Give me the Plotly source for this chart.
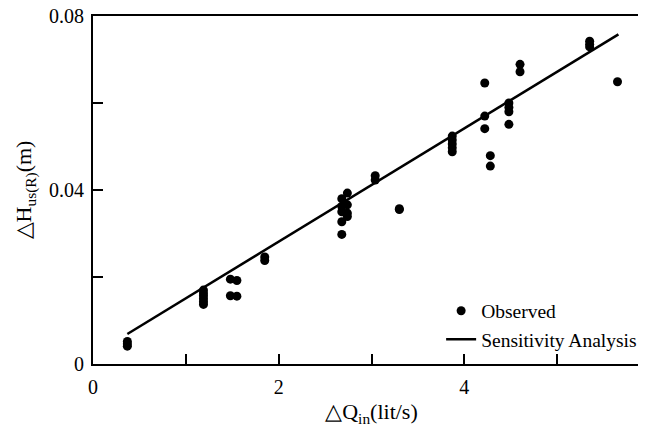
import plotly.graph_objects as go

obs_x = [0.37, 0.37, 0.37,
         1.19, 1.19, 1.19, 1.19, 1.19, 1.19,
         1.48, 1.48, 1.55, 1.55,
         1.85, 1.85,
         2.68, 2.68, 2.68, 2.68, 2.68,
         2.74, 2.74, 2.74, 2.74,
         3.04, 3.04,
         3.30, 3.30,
         3.87, 3.87, 3.87, 3.87, 3.87,
         4.22, 4.22, 4.22,
         4.28, 4.28,
         4.48, 4.48, 4.48, 4.48,
         4.60, 4.60,
         5.35, 5.35, 5.35,
         5.65]
obs_y = [0.0052, 0.0046, 0.0041,
         0.0170, 0.0163, 0.0157, 0.0150, 0.0143, 0.0137,
         0.0195, 0.0157, 0.0192, 0.0156,
         0.0246, 0.0238,
         0.0380, 0.0362, 0.0350, 0.0327, 0.0298,
         0.0393, 0.0366, 0.0347, 0.0339,
         0.0433, 0.0423,
         0.0357, 0.0355,
         0.0524, 0.0515, 0.0506, 0.0497, 0.0488,
         0.0646, 0.0570, 0.0541,
         0.0479, 0.0455,
         0.0600, 0.0590, 0.0580, 0.0551,
         0.0689, 0.0672,
         0.0742, 0.0735, 0.0729,
         0.0649]

fit_x = [0.37, 5.66]
fit_y = [0.0069, 0.0758]

x_tickvals = [0, 2, 4, 6]
x_ticktext = ["0", "2", "4", "6"]
x_minor = [1, 3, 5]
y_tickvals = [0, 0.04, 0.08]
y_ticktext = ["0", "0.04", "0.08"]
y_minor = [0.02, 0.06]

FONT = "Liberation Serif, Times New Roman, serif"

fig = go.Figure()
fig.add_trace(go.Scatter(x=obs_x, y=obs_y, mode="markers", name="Observed",
                         marker=dict(color="black", size=9)))
fig.add_trace(go.Scatter(x=fit_x, y=fit_y, mode="lines", name="Sensitivity Analysis",
                         line=dict(color="black", width=2.5)))

fig.update_layout(
    width=646, height=430,
    margin=dict(l=85, r=4, t=8, b=74, autoexpand=False),
    paper_bgcolor="white", plot_bgcolor="white",
    font=dict(family=FONT, size=20, color="black"),
    showlegend=True,
    legend=dict(x=0.625, y=0.208, xanchor="left", yanchor="top",
                bgcolor="rgba(0,0,0,0)", font=dict(size=19.5, family=FONT)),
    xaxis=dict(range=[0, 6.0001], tickvals=x_tickvals, ticktext=x_ticktext,
               ticks="inside", ticklen=10, tickwidth=2, tickcolor="black",
               minor=dict(tickvals=x_minor, ticks="inside", ticklen=10, tickwidth=2,
                          tickcolor="black", showgrid=False),
               ticklabelstandoff=4, ticklabeloverflow="allow", automargin=False,
               showline=True, linewidth=2, linecolor="black", mirror=True,
               showgrid=False, zeroline=False,
               title=dict(text="△Q<sub>in</sub>(lit/s)", font=dict(size=22), standoff=7)),
    yaxis=dict(range=[0, 0.08001], tickvals=y_tickvals, ticktext=y_ticktext,
               ticks="inside", ticklen=10, tickwidth=2, tickcolor="black",
               minor=dict(tickvals=y_minor, ticks="inside", ticklen=10, tickwidth=2,
                          tickcolor="black", showgrid=False),
               ticklabelstandoff=3, ticklabeloverflow="allow", automargin=False,
               showline=True, linewidth=2, linecolor="black", mirror=False,
               showgrid=False, zeroline=False,
               title=dict(text="△H<sub>us(R)</sub>(m)", font=dict(size=22), standoff=11)),
)

fig.write_html("out.html")
